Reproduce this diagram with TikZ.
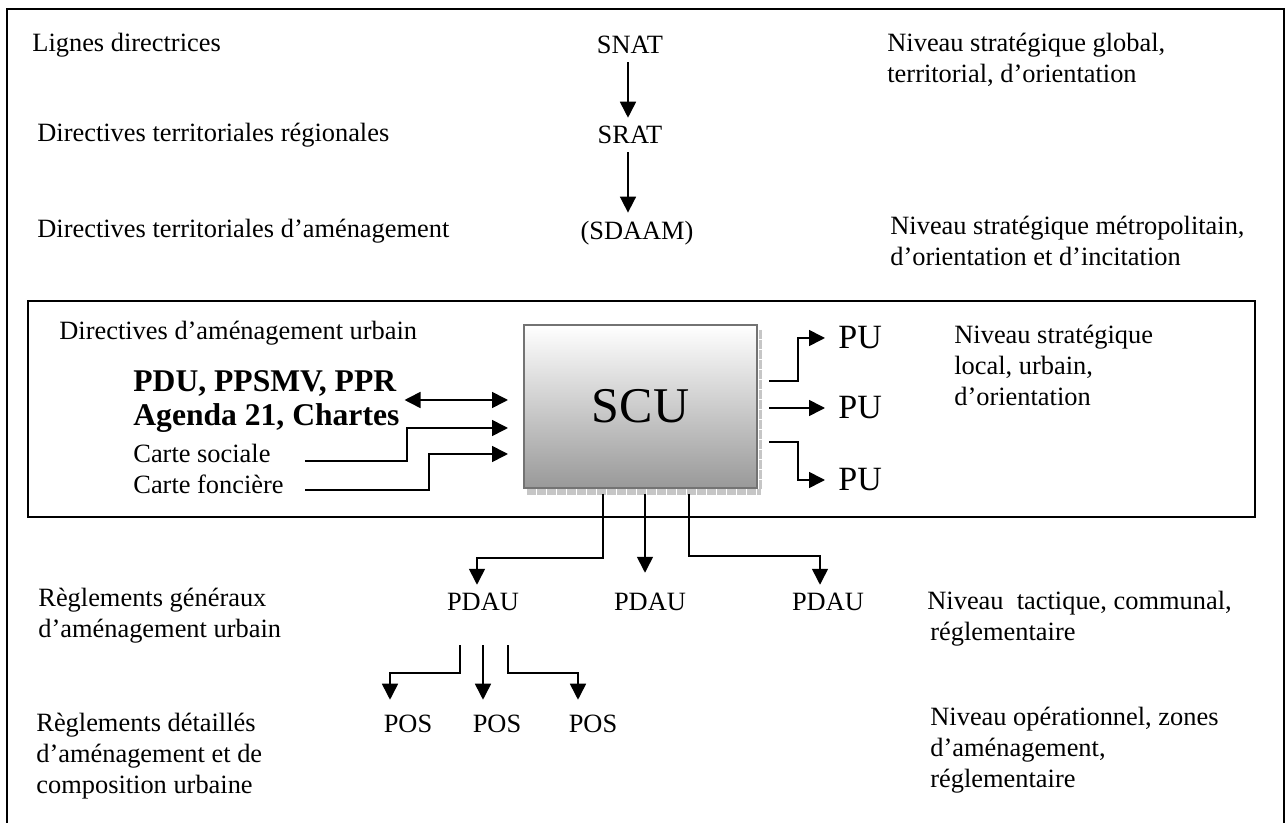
\documentclass[tikz,border=0pt]{standalone}
\usepackage{fontspec}
\setmainfont{Liberation Serif}
\usepackage{tikz}
\usetikzlibrary{arrows.meta,calc}

\tikzset{
  lbl/.style={anchor=west, inner sep=0pt, align=left, font=\fontsize{13.2}{15.5}\selectfont},
  bigbold/.style={anchor=west, inner sep=0pt, font=\fontsize{15.8}{18}\selectfont\bfseries},
  plan/.style={inner sep=4pt, font=\fontsize{13.2}{15.5}\selectfont},
  pubox/.style={anchor=west, inner sep=0pt, font=\fontsize{17}{20}\selectfont},
  scubox/.style={draw=gray!110, line width=1pt, top color=white, bottom color=black!40,
    minimum width=116.5pt, minimum height=81.5pt, inner sep=0pt, font=\fontsize{25}{30}\selectfont},
  arr/.style={line width=0.8pt, -{Triangle[length=8pt,width=8pt]}},
  biarr/.style={line width=0.8pt, {Triangle[length=8pt,width=8pt]}-{Triangle[length=8pt,width=8pt]}}
}

\begin{document}
\begin{tikzpicture}[x=0.5pt, y=-0.5pt]
        \useasboundingbox (0,0) rectangle (1287,823);
        % Outer frame and the urban level frame
        \draw[line width=1pt] (7,9) rectangle (1284,830);
        \draw[line width=1pt] (28,301) rectangle (1255,517);

        % Left column
        \node[lbl] (lignes) at (32,45) {Lignes directrices};
        \node[lbl] (dtr) at (37,135) {Directives territoriales régionales};
        \node[lbl] (dta) at (37,231) {Directives territoriales d’aménagement};
        \node[lbl] (dau) at (59,333) {Directives d’aménagement urbain};
        \node[bigbold] (pdu) at (133,383) {PDU, PPSMV, PPR};
        \node[bigbold] (agenda) at (133,418) {Agenda 21, Chartes};
        \node[lbl] (csoc) at (133,453) {Carte sociale};
        \node[lbl] (cfon) at (133,484) {Carte foncière};
        \node[lbl] (rgen) at (38,616) {Règlements généraux\\d’aménagement urbain};
        \node[lbl] (rdet) at (36,756.5) {Règlements détaillés\\d’aménagement et de\\composition urbaine};

        % Plans
        \node[plan] (snat) at (630,45) {SNAT};
        \node[plan] (srat) at (630,135) {SRAT};
        \node[plan] (sdaam) at (637,233) {(SDAAM)};
        \node[scubox] (scu) at (640.5,406.5) {SCU};
        \node[pubox] (pu1) at (838,338) {PU};
        \node[pubox] (pu2) at (838,408) {PU};
        \node[pubox] (pu3) at (838,480) {PU};
        \node[plan] (pdau1) at (483,602) {PDAU};
        \node[plan] (pdau2) at (650,602) {PDAU};
        \node[plan] (pdau3) at (828,602) {PDAU};
        \node[plan] (pos1) at (408,724) {POS};
        \node[plan] (pos2) at (497,724) {POS};
        \node[plan] (pos3) at (593,724) {POS};

        % Right column
        \node[lbl] (nglob) at (887,60) {Niveau stratégique global,\\territorial, d’orientation};
        \node[lbl] (nmet) at (890,240.5) {Niveau stratégique métropolitain,\\d’orientation et d’incitation};
        \node[lbl] (nloc) at (954,365) {Niveau stratégique\\local, urbain,\\d’orientation};
        \node[lbl] (ntac) at (927,618.5) {Niveau\ \ tactique, communal,\\\hspace{1.5pt}réglementaire};
        \node[lbl] (nope) at (930,750) {Niveau opérationnel, zones\\d’aménagement,\\réglementaire};

        % Shadow of the SCU box
        \draw[gray!45, line width=3pt, dash pattern=on 4.5pt off 0.5pt]
          ($(scu.south west)+(4,3)$) -- ($(scu.south east)+(3,3)$);
        \draw[gray!45, line width=1.5pt, dash pattern=on 4.5pt off 0.5pt]
          ($(scu.north east)+(2,6)$) -- ($(scu.south east)+(2,0)$);

        % Top chain
        \draw[arr] (snat.south -| 628,0) -- (srat.north -| 628,0);
        \draw[arr] (srat.south -| 628,0) -- (sdaam.north -| 628,0);

        % Inputs of the SCU
        \coordinate (in1) at ($(scu.west)+(-15,-6.5)$);
        \coordinate (in2) at ($(scu.west)+(-15,21.5)$);
        \coordinate (in3) at ($(scu.west)+(-15,47.5)$);
        \draw[biarr] ([xshift=4pt]pdu.east |- in1) -- (in1);
        \draw[arr] ($(csoc.east)+(34,8)$) -| ($(in2)+(-101,0)$) -- (in2);
        \draw[arr] ($(cfon.east)+(21,6)$) -| ($(in3)+(-79,0)$) -- (in3);

        % Outputs to the PU
        \draw[arr] ($(scu.east)+(11,-25.5)$) -- ++(29,0) |- ($(pu1.west)+(-13,0)$);
        \draw[arr] ($(scu.east)+(11,1.5)$) -- ($(pu2.west)+(-13,0)$);
        \draw[arr] ($(scu.east)+(11,35.5)$) -- ++(29,0) |- ($(pu3.west)+(-13,0)$);

        % Outputs to the PDAU
        \draw[arr] ($(scu.south)+(-37.5,5)$) -- ++(0,64) -| ($(pdau1.north)+(-6,0)$);
        \draw[arr] ($(scu.south)+(4.5,5)$) -- ($(pdau2.north)+(-5,-12)$);
        \draw[arr] ($(scu.south)+(48.5,5)$) -- ++(0,62) -| ($(pdau3.north)+(-8,0)$);

        % Outputs to the POS
        \draw[arr] ($(pdau1.south)+(-23,26)$) -- ++(0,28) -| ($(pos1.north)+(-18,-7)$);
        \draw[arr] ($(pdau1.south)+(0,26)$) -- ($(pos2.north)+(-14,-7)$);
        \draw[arr] ($(pdau1.south)+(25,26)$) -- ++(0,28) -| ($(pos3.north)+(-15,-7)$);
    \end{tikzpicture}
\end{document}
